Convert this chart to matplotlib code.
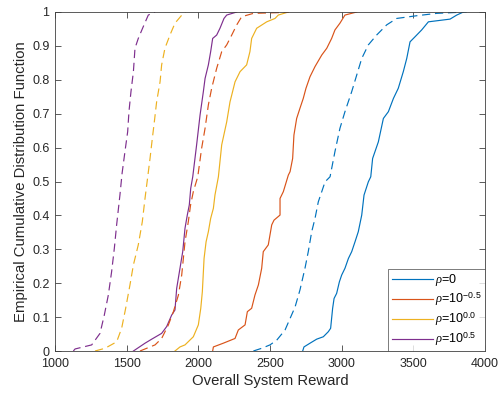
import matplotlib
matplotlib.use("Agg")
import matplotlib.pyplot as plt

plt.rcParams['font.family'] = ['Liberation Sans', 'DejaVu Sans']
plt.rcParams['mathtext.fontset'] = 'custom'
plt.rcParams['mathtext.it'] = 'Liberation Serif:italic'
plt.rcParams['mathtext.rm'] = 'Liberation Sans'

# (x, cdf) points
blue_solid_x = [2728, 2737, 2779, 2826, 2872, 2907, 2923, 2937, 2947, 2965, 2984, 3000, 3023, 3047, 3070, 3093, 3116, 3140, 3156, 3186, 3203, 3216, 3256, 3291, 3326, 3361, 3395, 3430, 3454, 3477, 3512, 3558, 3605, 3756, 3803, 3849]
blue_solid_y = [0.0, 0.012, 0.023, 0.035, 0.042, 0.057, 0.067, 0.126, 0.155, 0.17, 0.204, 0.224, 0.244, 0.273, 0.293, 0.322, 0.352, 0.401, 0.46, 0.499, 0.514, 0.568, 0.617, 0.686, 0.706, 0.745, 0.775, 0.824, 0.863, 0.912, 0.927, 0.947, 0.971, 0.979, 0.991, 1.0]
blue_dash_x = [2384, 2442, 2500, 2547, 2605, 2640, 2675, 2709, 2744, 2767, 2791, 2814, 2837, 2861, 2884, 2919, 2953, 2988, 3023, 3070, 3105, 3140, 3186, 3244, 3314, 3384, 3523, 3663, 3872]
blue_dash_y = [0.0, 0.008, 0.018, 0.032, 0.062, 0.096, 0.13, 0.18, 0.244, 0.293, 0.352, 0.391, 0.44, 0.47, 0.499, 0.514, 0.588, 0.657, 0.706, 0.765, 0.814, 0.863, 0.903, 0.932, 0.962, 0.981, 0.989, 0.996, 1.0]

red_solid_x = [2100, 2105, 2174, 2256, 2279, 2326, 2342, 2372, 2395, 2419, 2442, 2453, 2488, 2512, 2528, 2570, 2570, 2593, 2628, 2640, 2658, 2667, 2686, 2709, 2732, 2751, 2779, 2814, 2861, 2896, 2930, 2953, 2988, 3023, 3105]
red_solid_y = [0.0, 0.012, 0.023, 0.037, 0.062, 0.077, 0.116, 0.126, 0.165, 0.195, 0.244, 0.293, 0.313, 0.372, 0.386, 0.401, 0.45, 0.47, 0.519, 0.529, 0.568, 0.637, 0.686, 0.716, 0.745, 0.775, 0.809, 0.839, 0.873, 0.893, 0.922, 0.947, 0.967, 0.991, 1.0]
red_dash_x = [1593, 1698, 1744, 1791, 1826, 1861, 1884, 1907, 1930, 1946, 1965, 1996, 2023, 2047, 2070, 2093, 2128, 2163, 2198, 2233, 2268, 2302, 2384, 2550, 2630]
red_dash_y = [0.0, 0.018, 0.037, 0.077, 0.116, 0.165, 0.224, 0.322, 0.381, 0.431, 0.47, 0.514, 0.598, 0.657, 0.726, 0.775, 0.834, 0.883, 0.903, 0.932, 0.962, 0.986, 0.996, 0.998, 1.0]

yellow_solid_x = [1837, 1872, 1907, 1965, 2000, 2017, 2028, 2040, 2054, 2070, 2086, 2105, 2116, 2140, 2163, 2198, 2221, 2233, 2256, 2291, 2337, 2360, 2372, 2407, 2477, 2535, 2558, 2628]
yellow_solid_y = [0.0, 0.012, 0.018, 0.042, 0.077, 0.126, 0.175, 0.273, 0.322, 0.352, 0.391, 0.421, 0.46, 0.514, 0.608, 0.676, 0.735, 0.755, 0.794, 0.824, 0.844, 0.883, 0.922, 0.952, 0.971, 0.981, 0.991, 1.0]
yellow_dash_x = [1279, 1349, 1430, 1465, 1493, 1523, 1547, 1581, 1609, 1628, 1647, 1663, 1679, 1693, 1709, 1733, 1744, 1767, 1802, 1837, 1895, 1910]
yellow_dash_y = [0.0, 0.008, 0.027, 0.067, 0.126, 0.195, 0.254, 0.313, 0.381, 0.45, 0.514, 0.568, 0.627, 0.676, 0.735, 0.794, 0.844, 0.893, 0.932, 0.967, 0.996, 1.0]

purple_solid_x = [1547, 1628, 1675, 1744, 1779, 1814, 1837, 1849, 1872, 1891, 1907, 1923, 1937, 1947, 1961, 1988, 2012, 2035, 2047, 2070, 2086, 2100, 2128, 2151, 2179, 2198, 2268]
purple_solid_y = [0.0, 0.023, 0.035, 0.052, 0.072, 0.106, 0.121, 0.185, 0.244, 0.293, 0.362, 0.401, 0.431, 0.48, 0.514, 0.608, 0.696, 0.765, 0.804, 0.844, 0.883, 0.922, 0.932, 0.952, 0.981, 0.991, 1.0]
purple_dash_x = [1128, 1140, 1256, 1314, 1344, 1372, 1395, 1414, 1430, 1453, 1468, 1488, 1507, 1516, 1530, 1547, 1558, 1581, 1616, 1651, 1698]
purple_dash_y = [0.0, 0.006, 0.018, 0.052, 0.106, 0.165, 0.234, 0.303, 0.372, 0.46, 0.524, 0.588, 0.647, 0.706, 0.765, 0.824, 0.893, 0.922, 0.957, 0.991, 1.0]

labels = [r'$\it{\rho}$=0', r'$\it{\rho}$=10$^{-0.5}$', r'$\it{\rho}$=10$^{0.0}$', r'$\it{\rho}$=10$^{0.5}$']
x_ticks = [1000, 1500, 2000, 2500, 3000, 3500, 4000]
y_ticks = [0, 0.1, 0.2, 0.3, 0.4, 0.5, 0.6, 0.7, 0.8, 0.9, 1]
y_ticklabels = ['0', '0.1', '0.2', '0.3', '0.4', '0.5', '0.6', '0.7', '0.8', '0.9', '1']

colors = ['#0072BD', '#D95319', '#EDB120', '#7E2F8E']

fig = plt.figure(figsize=(5.03, 3.96), dpi=100)
ax = fig.add_axes([55/503, 45/396, 430/503, 339/396])

solids = [(blue_solid_x, blue_solid_y), (red_solid_x, red_solid_y),
          (yellow_solid_x, yellow_solid_y), (purple_solid_x, purple_solid_y)]
dashes = [(blue_dash_x, blue_dash_y), (red_dash_x, red_dash_y),
          (yellow_dash_x, yellow_dash_y), (purple_dash_x, purple_dash_y)]

handles = []
for (xs, ys), c, lab in zip(solids, colors, labels):
    h, = ax.plot(xs, ys, color=c, lw=0.85, label=lab)
    handles.append(h)
for (xs, ys), c in zip(dashes, colors):
    ax.plot(xs, ys, color=c, lw=0.85, ls=(0, (7, 4)))

ax.set_xlim(1000, 4000)
ax.set_ylim(0, 1)
ax.set_xticks(x_ticks)
ax.set_yticks(y_ticks)
ax.set_yticklabels(y_ticklabels)
ax.tick_params(direction='in', top=True, right=True, length=4, width=0.6,
               colors='#404040', labelsize=9, labelcolor='#262626')
ax.tick_params(axis='x', pad=5)
ax.tick_params(axis='y', pad=4)
for s in ax.spines.values():
    s.set_color('#404040')
    s.set_linewidth(0.6)

ax.set_xlabel('Overall System Reward', fontsize=10.7, color='#262626', labelpad=3)
ax.set_ylabel('Empirical Cumulative Distribution Function', fontsize=10.7, color='#262626', labelpad=3)

leg = ax.legend(handles=handles, loc='lower right', fontsize=9, frameon=True,
                fancybox=False, edgecolor='#404040', handlelength=3.3,
                handletextpad=0.2, borderaxespad=0.0, labelspacing=0.2,
                borderpad=0.25)
leg.get_frame().set_linewidth(0.6)

fig.savefig('out.png', dpi=100)
